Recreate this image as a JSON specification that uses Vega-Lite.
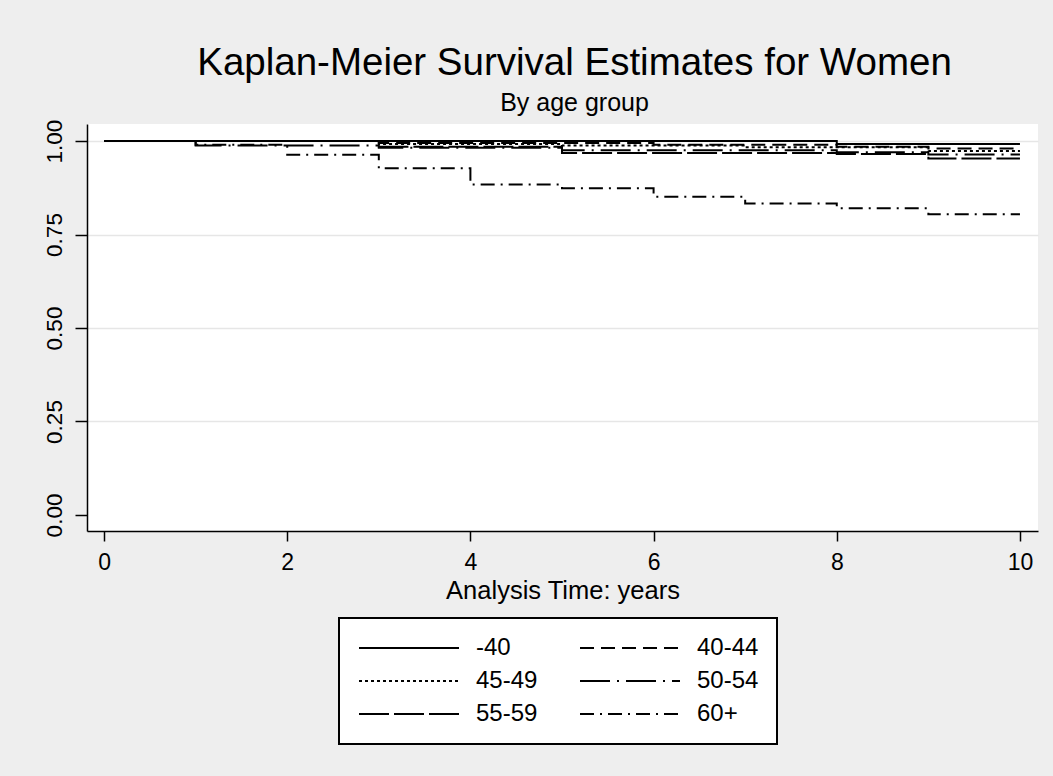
{
  "$schema": "https://vega.github.io/schema/vega-lite/v6.json",
  "width": 951,
  "height": 407,
  "autosize": "none",
  "padding": {"left": 87, "top": 124, "right": 15, "bottom": 245},
  "background": "#EEEEEE",
  "title": {
    "text": "Kaplan-Meier Survival Estimates for Women",
    "subtitle": "By age group",
    "fontSize": 38.5,
    "subtitleFontSize": 25,
    "fontWeight": "normal",
    "font": "Liberation Sans",
    "subtitleFont": "Liberation Sans",
    "color": "black",
    "subtitleColor": "black",
    "anchor": "middle",
    "dx": 12,
    "offset": 2,
    "subtitlePadding": 8
  },
  "config": {
    "font": "Liberation Sans",
    "view": {"fill": "white", "stroke": null},
    "legend": {"strokeWidth": 2}
  },
  "data": {
    "values": [
      {"t": 0, "s": 1, "g": "-40"},
      {"t": 8, "s": 0.992, "g": "-40"},
      {"t": 10, "s": 0.992, "g": "-40"},

      {"t": 0, "s": 1, "g": "40-44"},
      {"t": 3, "s": 0.995, "g": "40-44"},
      {"t": 6, "s": 0.99, "g": "40-44"},
      {"t": 8, "s": 0.985, "g": "40-44"},
      {"t": 9, "s": 0.98, "g": "40-44"},
      {"t": 10, "s": 0.98, "g": "40-44"},

      {"t": 0, "s": 1, "g": "45-49"},
      {"t": 3, "s": 0.992, "g": "45-49"},
      {"t": 5, "s": 0.988, "g": "45-49"},
      {"t": 7, "s": 0.983, "g": "45-49"},
      {"t": 9, "s": 0.973, "g": "45-49"},
      {"t": 10, "s": 0.973, "g": "45-49"},

      {"t": 0, "s": 1, "g": "50-54"},
      {"t": 1, "s": 0.988, "g": "50-54"},
      {"t": 3, "s": 0.982, "g": "50-54"},
      {"t": 5, "s": 0.975, "g": "50-54"},
      {"t": 8, "s": 0.97, "g": "50-54"},
      {"t": 9, "s": 0.964, "g": "50-54"},
      {"t": 10, "s": 0.964, "g": "50-54"},

      {"t": 0, "s": 1, "g": "55-59"},
      {"t": 3, "s": 0.985, "g": "55-59"},
      {"t": 5, "s": 0.968, "g": "55-59"},
      {"t": 8, "s": 0.965, "g": "55-59"},
      {"t": 9, "s": 0.953, "g": "55-59"},
      {"t": 10, "s": 0.953, "g": "55-59"},

      {"t": 0, "s": 1, "g": "60+"},
      {"t": 1, "s": 0.99, "g": "60+"},
      {"t": 2, "s": 0.963, "g": "60+"},
      {"t": 3, "s": 0.927, "g": "60+"},
      {"t": 4, "s": 0.884, "g": "60+"},
      {"t": 5, "s": 0.874, "g": "60+"},
      {"t": 6, "s": 0.851, "g": "60+"},
      {"t": 7, "s": 0.833, "g": "60+"},
      {"t": 8, "s": 0.82, "g": "60+"},
      {"t": 9, "s": 0.804, "g": "60+"},
      {"t": 10, "s": 0.804, "g": "60+"}
    ]
  },
  "mark": {"type": "line", "interpolate": "step-after", "strokeWidth": 2, "color": "black", "clip": true},
  "encoding": {
    "x": {
      "field": "t",
      "type": "quantitative",
      "scale": {"domain": [-0.186, 10.197], "nice": false, "zero": false},
      "axis": {
        "title": "Analysis Time: years",
        "values": [0, 2, 4, 6, 8, 10],
        "grid": false,
        "domainColor": "black",
        "domainWidth": 1.5,
        "tickColor": "black",
        "tickWidth": 1.5,
        "tickSize": 10,
        "labelFontSize": 23,
        "labelColor": "black",
        "labelPadding": 10,
        "labelFont": "Liberation Sans",
        "titleFontSize": 25.5,
        "titleFontWeight": "normal",
        "titleColor": "black",
        "titlePadding": 4,
        "titleFont": "Liberation Sans"
      }
    },
    "y": {
      "field": "s",
      "type": "quantitative",
      "scale": {"domain": [-0.0428, 1.0455], "nice": false, "zero": false},
      "axis": {
        "title": null,
        "values": [0, 0.25, 0.5, 0.75, 1],
        "format": ".2f",
        "grid": true,
        "gridColor": "#E6E6E6",
        "gridWidth": 1.5,
        "gridOpacity": {"condition": {"test": "datum.value === 0", "value": 0}, "value": 1},
        "domainColor": "black",
        "domainWidth": 1.5,
        "tickColor": "black",
        "tickWidth": 1.5,
        "tickSize": 12,
        "labelAngle": -90,
        "labelAlign": "center",
        "labelBaseline": "bottom",
        "labelFontSize": 22.5,
        "labelColor": "black",
        "labelPadding": 9,
        "labelFont": "Liberation Sans"
      }
    },
    "strokeDash": {
      "field": "g",
      "type": "nominal",
      "scale": {
        "domain": ["-40", "40-44", "45-49", "50-54", "55-59", "60+"],
        "range": [[1, 0], [14, 7], [3, 3], [30, 7, 2, 7], [30, 5], [14, 6, 2, 6]]
      },
      "legend": {
        "title": null,
        "orient": "none",
        "legendX": 252,
        "legendY": 494,
        "columns": 2,
        "direction": "horizontal",
        "symbolType": "M-1,0H9",
        "symbolSize": 400,
        "symbolStrokeWidth": 2,
        "symbolStrokeColor": "black",
        "labelFontSize": 24,
        "labelFont": "Liberation Sans",
        "labelColor": "black",
        "labelOffset": 95,
        "rowPadding": 9,
        "columnPadding": 38,
        "padding": 18,
        "fillColor": "white",
        "strokeColor": "black"
      }
    }
  }
}
